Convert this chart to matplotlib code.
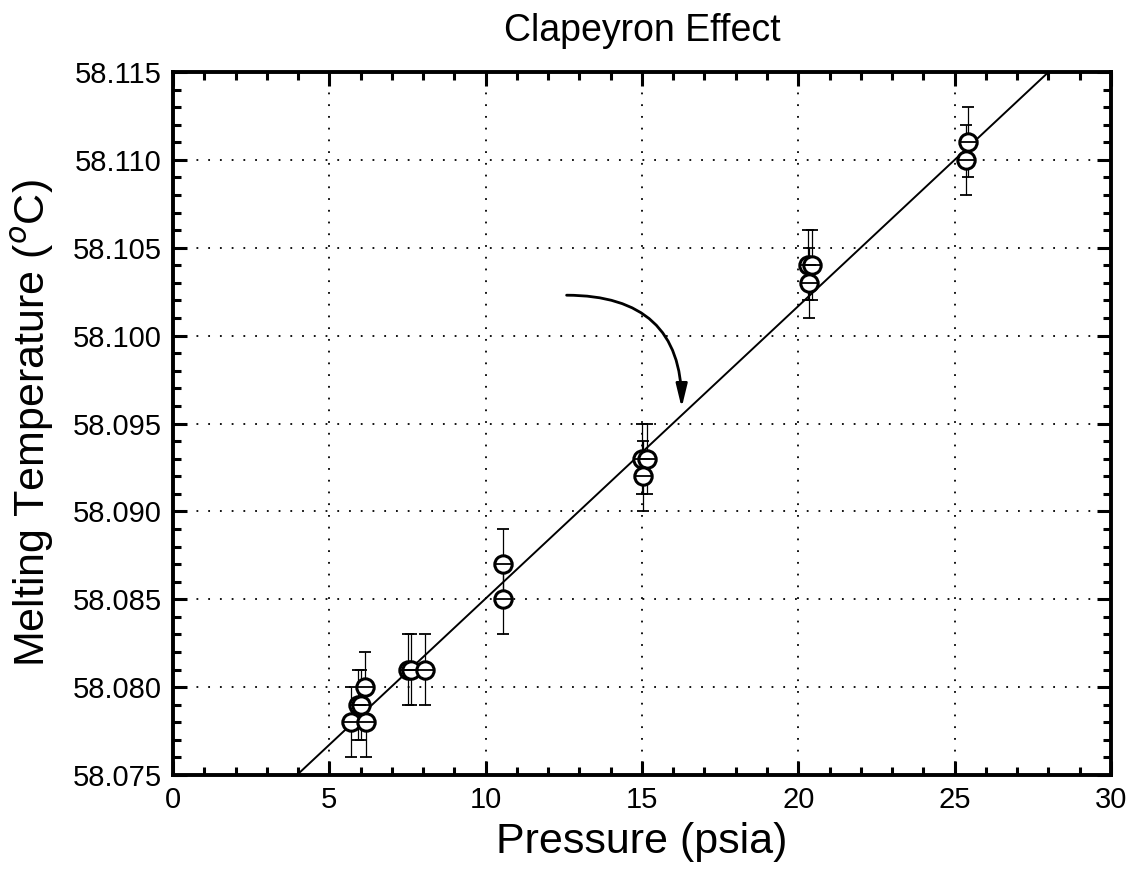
import matplotlib
matplotlib.use("Agg")
import matplotlib.pyplot as plt
from matplotlib.ticker import MultipleLocator, FormatStrFormatter

# Data
pressure = [5.70, 6.18, 5.92, 6.02, 6.13, 7.52, 7.62, 8.07,
            10.56, 10.56, 15.00, 15.15, 15.04, 20.30, 20.45, 20.35, 25.43, 25.36]
melt_temp = [58.078, 58.078, 58.079, 58.079, 58.080, 58.081, 58.081, 58.081,
             58.087, 58.085, 58.093, 58.093, 58.092, 58.104, 58.104, 58.103, 58.111, 58.110]
temp_err = [0.002] * len(pressure)

# linear fit shown in the figure
fit_slope = 0.001664
fit_intercept = 58.0684
fit_x = [0, 30]

# curved arrow annotation (start, tip)
arrow_start = (12.59, 58.1023)
arrow_tip = (16.27, 58.0959)

plt.rcParams["font.family"] = ["Liberation Sans", "DejaVu Sans"]

fig = plt.figure(figsize=(11.32, 8.77), dpi=100)
ax = fig.add_axes([0.1528, 0.1163, 0.8286, 0.8016])

ax.plot(fit_x, [fit_intercept + fit_slope * x for x in fit_x], color="black", lw=1.4, zorder=2)

ax.errorbar(pressure, melt_temp, yerr=temp_err, fmt="none", ecolor="black",
            elinewidth=0.9, capsize=4.5, capthick=1.3, zorder=3)
ax.plot(pressure, melt_temp, "o", ms=12.5, mfc="white", mec="black", mew=2.2, zorder=4)
ax.plot(pressure, melt_temp, "_", ms=11, mec="black", mew=1.3, zorder=5)

ax.annotate("", xy=arrow_tip, xytext=arrow_start,
            arrowprops=dict(arrowstyle="-|>,head_length=1.4,head_width=0.34",
                            connectionstyle="angle3,angleA=0,angleB=90",
                            color="black", lw=2.0, mutation_scale=10,
                            shrinkA=0, shrinkB=0))

ax.set_xlim(0, 30)
ax.set_ylim(58.075, 58.115)
ax.xaxis.set_major_locator(MultipleLocator(5))
ax.xaxis.set_minor_locator(MultipleLocator(1))
ax.yaxis.set_major_locator(MultipleLocator(0.005))
ax.yaxis.set_minor_locator(MultipleLocator(0.001))
ax.yaxis.set_major_formatter(FormatStrFormatter("%.3f"))

ax.grid(True, which="major", color="black", lw=1.3, linestyle=(0, (1, 5.5)))
ax.tick_params(which="both", direction="in", top=True, right=True, labelsize=21, pad=8)
ax.tick_params(which="major", length=10, width=2.2)
ax.tick_params(which="minor", length=6, width=2.2)
for s in ax.spines.values():
    s.set_linewidth(2.8)

ax.set_title("Clapeyron Effect", fontsize=27, pad=22)
ax.set_xlabel("Pressure (psia)", fontsize=31, labelpad=6)
ax.set_ylabel("Melting Temperature ($^o$C)", fontsize=31, labelpad=12)

fig.savefig("out.png", dpi=100)
